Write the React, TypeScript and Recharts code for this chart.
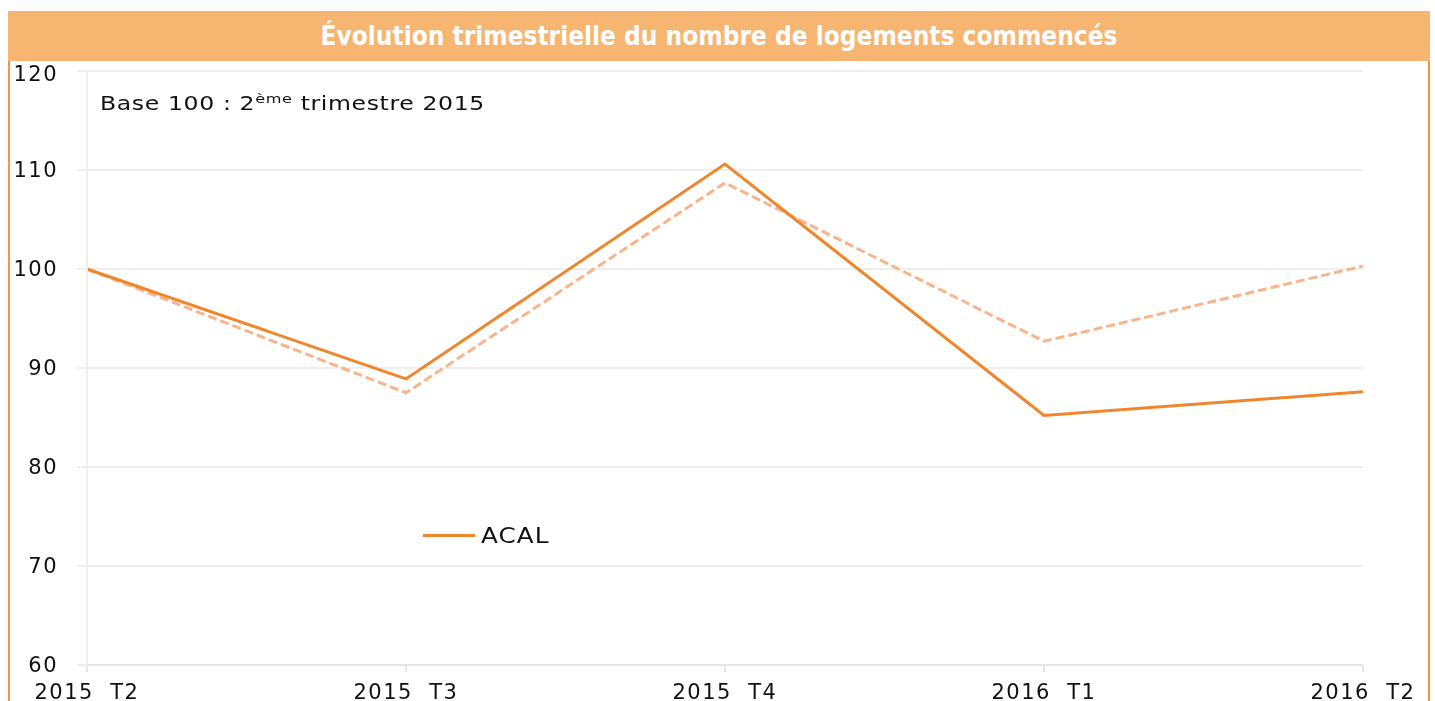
import { LineChart, Line, XAxis, YAxis, CartesianGrid } from "recharts";

const quarters = ["2015  T2", "2015  T3", "2015  T4", "2016  T1", "2016  T2"];
const acal = [100, 88.9, 110.6, 85.2, 87.6];
const reference = [100, 87.5, 108.7, 92.7, 100.3];
const yTicks = [60, 70, 80, 90, 100, 110, 120];

const chartData = quarters.map((q, i) => ({
  quarter: q.replace(/ /g, "\u00a0"),
  acal: acal[i],
  reference: reference[i],
}));

const xTickFont = { fontFamily: "DejaVu Sans", fontSize: 21, letterSpacing: 1.5, fill: "#111" };
const yTickFont = { fontFamily: "DejaVu Sans", fontSize: 21, letterSpacing: 1.5, fill: "#111" };

export default function App() {
  return (
    <div
      style={{
        position: "fixed",
        left: 8,
        top: 11,
        width: 1422,
        fontFamily: "DejaVu Sans",
      }}
    >
      <div
        style={{
          height: 50,
          background: "#F6B570",
          color: "#fff",
          fontFamily: "DejaVu Sans Condensed",
          fontWeight: "bold",
          fontSize: 26,
          textAlign: "center",
          lineHeight: "50px",
        }}
      >
        Évolution trimestrielle du nombre de logements commencés
      </div>
      <div
        style={{
          position: "relative",
          boxSizing: "border-box",
          width: 1422,
          height: 640,
          borderLeft: "2px solid #F0963C",
          borderRight: "2px solid #F0963C",
        }}
      >
        <div
          style={{
            position: "absolute",
            left: 90,
            top: 30,
            fontSize: 19,
            letterSpacing: 0.5,
            color: "#111",
            whiteSpace: "nowrap",
            transform: "scaleX(1.24)",
            transformOrigin: "left center",
            zIndex: 2,
          }}
        >
          Base 100 : 2<sup style={{ fontSize: 13 }}>ème</sup> trimestre 2015
        </div>
        <div
          style={{
            position: "absolute",
            left: 413,
            top: 462,
            display: "flex",
            alignItems: "center",
            zIndex: 2,
          }}
        >
          <span style={{ display: "inline-block", width: 52, height: 3, background: "#F0862C", marginRight: 6 }} />
          <span
            style={{
              display: "inline-block",
              fontSize: 22,
              letterSpacing: 1,
              color: "#111",
              transform: "scaleX(1.12)",
              transformOrigin: "left center",
            }}
          >
            ACAL
          </span>
        </div>
        <LineChart
          width={1418}
          height={640}
          data={chartData}
          margin={{ top: 10, right: 65, left: 0, bottom: 0 }}
          style={{ overflow: "visible" }}
        >
          <CartesianGrid vertical={false} stroke="#EFEFEF" strokeWidth={2} />
          <XAxis
            dataKey="quarter"
            height={36}
            tick={xTickFont}
            tickSize={7}
            tickMargin={12}
            stroke="#E6E6E6"
            strokeWidth={2}
            interval={0}
            padding={{ left: 0, right: 0 }}
          />
          <YAxis
            width={77}
            domain={[60, 120]}
            ticks={yTicks}
            tick={yTickFont}
            tickSize={10}
            tickMargin={19}
            stroke="#EFEFEF"
            strokeWidth={2}
          />
          <Line
            type="linear"
            dataKey="reference"
            name="Référence"
            stroke="#F9B48A"
            strokeWidth={3}
            strokeDasharray="9 4"
            dot={false}
            legendType="none"
            isAnimationActive={false}
          />
          <Line
            type="linear"
            dataKey="acal"
            name="ACAL"
            stroke="#F0862C"
            strokeWidth={3}
            dot={false}
            isAnimationActive={false}
          />
        </LineChart>
      </div>
    </div>
  );
}
